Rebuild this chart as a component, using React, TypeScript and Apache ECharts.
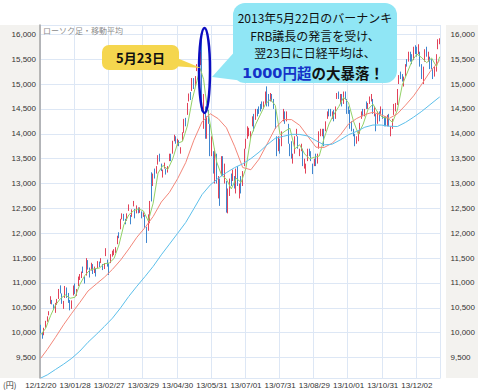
import React, { useEffect, useRef } from 'react';
import * as echarts from 'echarts';

// trading days (year/month prefix, days)
const monthDays: [string, number[]][] = [
  ['12/12', [20, 21, 25, 26, 27, 28]],
  ['13/01', [4, 7, 8, 9, 10, 11, 15, 16, 17, 18, 21, 22, 23, 24, 25, 28, 29, 30, 31]],
  ['13/02', [1, 4, 5, 6, 7, 8, 12, 13, 14, 15, 18, 19, 20, 21, 22, 25, 26, 27, 28]],
  ['13/03', [1, 4, 5, 6, 7, 8, 11, 12, 13, 14, 15, 18, 19, 21, 22, 25, 26, 27, 28, 29]],
  ['13/04', [1, 2, 3, 4, 5, 8, 9, 10, 11, 12, 15, 16, 17, 18, 19, 22, 23, 24, 25, 26, 30]],
  ['13/05', [1, 2, 7, 8, 9, 10, 13, 14, 15, 16, 17, 20, 21, 22, 23, 24, 27, 28, 29, 30, 31]],
  ['13/06', [3, 4, 5, 6, 7, 10, 11, 12, 13, 14, 17, 18, 19, 20, 21, 24, 25, 26, 27, 28]],
  ['13/07', [1, 2, 3, 4, 5, 8, 9, 10, 11, 12, 16, 17, 18, 19, 22, 23, 24, 25, 26, 29, 30, 31]],
  ['13/08', [1, 2, 5, 6, 7, 8, 9, 12, 13, 14, 15, 16, 19, 20, 21, 22, 23, 26, 27, 28, 29, 30]],
  ['13/09', [2, 3, 4, 5, 6, 9, 10, 11, 12, 13, 17, 18, 19, 20, 24, 25, 26, 27, 30]],
  ['13/10', [1, 2, 3, 4, 7, 8, 9, 10, 11, 15, 16, 17, 18, 21, 22, 23, 24, 25, 28, 29, 30, 31]],
  ['13/11', [1, 5, 6, 7, 8, 11, 12, 13, 14, 15, 18, 19, 20, 21, 22, 25, 26, 27, 28, 29]],
  ['13/12', [2, 3, 4, 5, 6, 9, 10, 11, 12, 13, 16, 17, 18, 19, 20]],
];
const dates: string[] = [];
monthDays.forEach(([ym, days]) => days.forEach((d) => dates.push(`${ym}/${d < 10 ? '0' + d : d}`)));

// [open, close, low, high]
const ohlc: number[][] = [
  // 2012/12
  [10130, 10040, 9990, 10160], [9970, 9940, 9880, 10010], [9990, 10080, 9950, 10100], [10110, 10230, 10100, 10240], [10250, 10322, 10220, 10330], [10380, 10395, 10350, 10433],
  // 2013/01
  [10604, 10688, 10580, 10734], [10640, 10599, 10570, 10660], [10540, 10508, 10467, 10570], [10455, 10578, 10400, 10600], [10580, 10652, 10560, 10680], [10700, 10801, 10680, 10880],
  [10910, 10879, 10790, 10952], [10780, 10600, 10580, 10790], [10540, 10609, 10480, 10640], [10720, 10913, 10700, 10940], [10880, 10747, 10700, 10910], [10720, 10709, 10600, 10800],
  [10640, 10487, 10450, 10660], [10500, 10620, 10480, 10650], [10760, 10926, 10750, 10950], [10960, 10824, 10780, 10990], [10800, 10866, 10740, 10880], [10950, 11113, 10940, 11130], [11090, 11138, 11060, 11180],
  // 2013/02
  [11140, 11191, 11100, 11230], [11300, 11260, 11200, 11330], [11120, 11046, 10990, 11130], [11180, 11463, 11150, 11500], [11420, 11357, 11270, 11460], [11280, 11153, 11110, 11310],
  [11280, 11369, 11250, 11407], [11360, 11251, 11180, 11380], [11280, 11307, 11200, 11330], [11260, 11173, 11130, 11290], [11320, 11408, 11300, 11440], [11400, 11372, 11320, 11430],
  [11420, 11468, 11400, 11500], [11360, 11309, 11260, 11380], [11310, 11385, 11280, 11400], [11550, 11662, 11540, 11700], [11450, 11398, 11330, 11470], [11370, 11253, 11160, 11400], [11420, 11559, 11400, 11580],
  // 2013/03
  [11580, 11606, 11530, 11650], [11600, 11652, 11560, 11680], [11650, 11683, 11600, 11720], [11800, 11932, 11780, 11950], [11990, 11968, 11900, 12020], [12100, 12283, 12080, 12290],
  [12330, 12349, 12280, 12400], [12360, 12314, 12250, 12390], [12260, 12239, 12180, 12290], [12280, 12381, 12250, 12400], [12500, 12560, 12450, 12580], [12300, 12220, 12180, 12370],
  [12350, 12468, 12330, 12480], [12560, 12635, 12540, 12650], [12480, 12338, 12300, 12490], [12420, 12546, 12400, 12560], [12480, 12471, 12400, 12520], [12440, 12493, 12410, 12520],
  [12420, 12336, 12300, 12440], [12370, 12397, 12330, 12420],
  // 2013/04
  [12350, 12135, 12110, 12370], [12100, 12003, 11805, 12130], [12100, 12362, 12050, 12380], [12300, 12634, 12200, 12650], [12900, 12833, 12640, 13225], [12980, 13192, 12950, 13200],
  [13270, 13193, 13100, 13300], [13280, 13288, 13200, 13350], [13400, 13549, 13380, 13570], [13520, 13485, 13440, 13600], [13380, 13275, 13250, 13400], [13150, 13221, 13120, 13280],
  [13320, 13382, 13300, 13420], [13280, 13220, 13180, 13300], [13240, 13316, 13220, 13350], [13480, 13568, 13450, 13600], [13560, 13529, 13450, 13600], [13620, 13843, 13600, 13860],
  [13870, 13926, 13850, 13980], [13900, 13884, 13800, 13950], [13800, 13860, 13760, 13900],
  // 2013/05
  [13850, 13799, 13750, 13870], [13680, 13694, 13600, 13730], [13900, 13999, 13860, 14030], [14050, 14285, 14020, 14300], [14300, 14191, 14150, 14320], [14400, 14607, 14380, 14620],
  [14720, 14782, 14650, 14810], [14800, 14758, 14680, 14840], [14880, 15096, 14860, 15120], [15100, 15037, 14900, 15120], [15020, 15138, 14950, 15160], [15300, 15360, 15260, 15400],
  [15350, 15381, 15250, 15420], [15400, 15627, 15380, 15650], [15700, 14483, 14450, 15942], [14400, 14612, 14100, 14800], [14500, 13981, 13900, 14550], [14020, 14311, 13900, 14350],
  [14450, 14326, 14200, 14480], [14150, 13589, 13550, 14200], [13700, 13774, 13550, 13950],
  // 2013/06
  [13600, 13261, 13200, 13650], [13100, 13534, 13000, 13700], [13550, 13014, 13000, 13600], [12800, 12904, 12700, 13150], [12900, 12877, 12550, 13100], [13200, 13514, 13150, 13550],
  [13500, 13317, 13150, 13550], [13150, 13289, 13000, 13400], [13000, 12445, 12415, 13050], [12450, 12686, 12400, 12900], [12800, 13033, 12750, 13100], [13150, 13008, 12950, 13200],
  [13100, 13245, 13050, 13280], [13050, 13015, 12900, 13150], [12850, 13230, 12800, 13300], [13300, 13062, 12950, 13350], [12850, 12969, 12700, 13000], [13000, 12834, 12800, 13150],
  [13050, 13213, 12950, 13250], [13400, 13677, 13350, 13700],
  // 2013/07
  [13750, 13852, 13700, 13900], [13950, 14099, 13900, 14150], [14050, 14055, 13950, 14120], [13950, 14018, 13900, 14050], [14200, 14309, 14150, 14350], [14350, 14109, 14050, 14400],
  [14300, 14472, 14280, 14500], [14450, 14416, 14350, 14500], [14500, 14472, 14400, 14550], [14550, 14506, 14450, 14600], [14600, 14599, 14500, 14650], [14550, 14615, 14500, 14650],
  [14650, 14808, 14600, 14850], [14850, 14589, 14550, 14953], [14750, 14658, 14550, 14800], [14700, 14778, 14650, 14820], [14750, 14731, 14650, 14800], [14650, 14562, 14500, 14700],
  [14450, 14129, 14100, 14500], [13900, 13661, 13550, 13950], [13700, 13869, 13650, 13950], [13850, 13668, 13600, 13900],
  // 2013/08
  [13800, 14005, 13750, 14050], [14300, 14466, 14250, 14500], [14400, 14258, 14200, 14450], [14300, 14401, 14250, 14450], [14150, 13824, 13800, 14200], [13750, 13605, 13550, 13800],
  [13750, 13615, 13500, 13850], [13500, 13519, 13400, 13600], [13650, 13925, 13600, 13950], [14000, 14050, 13950, 14100], [13900, 13752, 13700, 13950], [13600, 13650, 13550, 13700],
  [13750, 13758, 13650, 13800], [13650, 13397, 13350, 13700], [13350, 13424, 13300, 13500], [13250, 13366, 13200, 13400], [13500, 13660, 13450, 13700], [13650, 13636, 13550, 13700],
  [13600, 13542, 13450, 13650], [13350, 13338, 13190, 13400], [13400, 13459, 13350, 13500], [13550, 13389, 13350, 13600],
  // 2013/09
  [13450, 13572, 13400, 13600], [13700, 14001, 13700, 14050], [14000, 14053, 13950, 14100], [14000, 14065, 13950, 14100], [14050, 13860, 13750, 14100], [14100, 14205, 14050, 14250],
  [14350, 14423, 14300, 14450], [14450, 14425, 14350, 14500], [14450, 14387, 14350, 14500], [14350, 14404, 14300, 14450], [14450, 14311, 14250, 14480], [14350, 14505, 14300, 14550],
  [14750, 14766, 14700, 14820], [14800, 14742, 14700, 14850], [14700, 14732, 14600, 14800], [14750, 14620, 14550, 14800], [14650, 14799, 14600, 14850], [14800, 14760, 14700, 14850],
  [14650, 14455, 14400, 14700],
  // 2013/10
  [14500, 14484, 14400, 14550], [14450, 14170, 14100, 14480], [14200, 14157, 14050, 14250], [14050, 14024, 13950, 14100], [13950, 13853, 13750, 14000], [13850, 13894, 13800, 13950],
  [13900, 14037, 13850, 14050], [14050, 14194, 14000, 14220], [14350, 14404, 14300, 14450], [14450, 14441, 14350, 14500], [14400, 14467, 14350, 14500], [14600, 14586, 14500, 14650],
  [14550, 14561, 14500, 14620], [14650, 14693, 14600, 14750], [14700, 14713, 14650, 14800], [14650, 14426, 14400, 14700], [14400, 14486, 14350, 14550], [14350, 14088, 14050, 14400],
  [14250, 14396, 14200, 14450], [14400, 14325, 14250, 14450], [14450, 14502, 14400, 14550], [14450, 14327, 14300, 14500],
  // 2013/11
  [14300, 14201, 14150, 14350], [14300, 14225, 14150, 14350], [14200, 14337, 14150, 14380], [14350, 14229, 14150, 14400], [14050, 14086, 13950, 14150], [14150, 14269, 14100, 14300],
  [14400, 14588, 14380, 14600], [14500, 14567, 14450, 14620], [14600, 14876, 14580, 14900], [15050, 15165, 15000, 15180], [15200, 15164, 15100, 15250], [15150, 15126, 15050, 15200],
  [15050, 15076, 14950, 15150], [15200, 15365, 15150, 15400], [15450, 15381, 15350, 15500], [15500, 15619, 15450, 15650], [15600, 15515, 15450, 15650], [15550, 15449, 15400, 15600],
  [15500, 15727, 15480, 15750], [15750, 15661, 15600, 15780],
  // 2013/12
  [15700, 15655, 15550, 15750], [15650, 15749, 15600, 15800], [15600, 15407, 15350, 15650], [15350, 15177, 15100, 15400], [15050, 15299, 15000, 15350], [15500, 15650, 15450, 15700],
  [15700, 15610, 15550, 15750], [15500, 15611, 15450, 15650], [15500, 15341, 15300, 15550], [15450, 15403, 15300, 15500], [15250, 15152, 15100, 15300], [15200, 15278, 15150, 15350],
  [15300, 15586, 15250, 15600], [15750, 15859, 15700, 15900], [15850, 15870, 15800, 15920],
];

// moving averages read at [day index, value]
const ma5: number[][] = [
  [0, 9960], [3, 10090], [6, 10343], [9, 10554], [12, 10684], [15, 10760], [18, 10693], [21, 10713], [24, 10973], [27, 11150],
  [30, 11256], [33, 11287], [36, 11302], [39, 11388], [42, 11401], [45, 11494], [48, 11768], [51, 12169], [54, 12369], [57, 12453],
  [60, 12492], [63, 12449], [66, 12247], [69, 12605], [72, 13211], [75, 13364], [78, 13283], [81, 13495], [84, 13808], [87, 13847],
  [90, 14155], [93, 14687], [96, 15078], [97, 15202], [98, 15309], [99, 15198], [100, 15093], [101, 14817], [102, 14603], [105, 13996],
  [108, 13434], [111, 13169], [114, 13088], [117, 12892], [120, 13106], [123, 13022], [126, 13309], [129, 13940], [132, 14193], [135, 14395],
  [138, 14600], [141, 14690], [144, 14572], [147, 13978], [150, 14053], [153, 14111], [156, 13698], [159, 13779], [162, 13596], [165, 13497],
  [168, 13527], [171, 13552], [174, 13910], [177, 14196], [180, 14390], [183, 14546], [186, 14732], [189, 14624], [192, 14258], [195, 13993],
  [198, 14194], [201, 14492], [204, 14596], [207, 14422], [210, 14328], [213, 14318], [216, 14229], [219, 14477], [222, 14980], [225, 15222],
  [228, 15466], [231, 15601], [234, 15530], [237, 15429], [240, 15523], [243, 15352], [245, 15549],
];
const ma25: number[][] = [
  [0, 9489], [4, 9665], [9, 9907], [14, 10161], [19, 10391], [24, 10610], [29, 10839], [34, 10978], [39, 11114], [44, 11274],
  [49, 11460], [54, 11682], [59, 11920], [64, 12115], [69, 12337], [74, 12628], [79, 12822], [84, 13096], [89, 13421], [94, 13871],
  [99, 14239], [104, 14404], [109, 14302], [114, 14121], [119, 13749], [124, 13322], [129, 13277], [134, 13489], [139, 13796], [144, 14111],
  [149, 14285], [154, 14285], [159, 14170], [164, 13949], [169, 13730], [174, 13725], [179, 13810], [184, 13977], [189, 14197], [194, 14307],
  [199, 14387], [204, 14432], [209, 14382], [214, 14310], [219, 14401], [224, 14575], [229, 14763], [234, 14998], [239, 15245], [244, 15441],
  [245, 15472],
];
const ma75: number[][] = [
  [0, 9090], [4, 9153], [9, 9261], [14, 9368], [19, 9486], [24, 9631], [29, 9809], [34, 9963], [39, 10125], [44, 10293],
  [49, 10501], [54, 10729], [59, 10935], [64, 11130], [69, 11334], [74, 11566], [79, 11781], [84, 11998], [89, 12217], [94, 12494],
  [99, 12776], [104, 12969], [109, 13106], [114, 13219], [119, 13319], [124, 13396], [129, 13501], [134, 13629], [139, 13779], [144, 13910],
  [149, 13949], [154, 13989], [159, 13987], [164, 13955], [169, 13863], [174, 13777], [179, 13791], [184, 13878], [189, 13981], [194, 14049],
  [199, 14132], [204, 14176], [209, 14176], [214, 14152], [219, 14146], [224, 14229], [229, 14335], [234, 14452], [239, 14584], [244, 14716],
  [245, 14740],
];

const Y_MIN = 9090;
const Y_MAX = 16187;

const fmt = (v: number) => String(Math.round(v)).replace(/\B(?=(\d{3})+(?!\d))/g, ',');
const LATIN = 'Liberation Sans, Arial, sans-serif';
const JP = '"Noto Sans CJK JP", sans-serif';

export default function App() {
  const ref = useRef<HTMLDivElement>(null);
  useEffect(() => {
    if (!ref.current) return;
    const chart = echarts.init(ref.current, undefined, { renderer: 'svg' });
    const axisLabelBase = {
      color: '#333',
      fontSize: 8,
      fontFamily: LATIN,
      showMinLabel: false,
      showMaxLabel: false,
      formatter: (v: number) => fmt(v),
    };
    chart.setOption({
      animation: false,
      backgroundColor: '#ffffff',
      grid: { left: 40, right: 32, top: 25, bottom: 14 },
      xAxis: {
        type: 'category',
        data: dates,
        boundaryGap: true,
        axisLine: { show: false },
        axisTick: { show: false },
        axisLabel: { interval: 20, color: '#333', fontSize: 8, fontFamily: LATIN, margin: 3 },
        splitLine: { show: true, interval: 20, lineStyle: { color: '#dde7f5', width: 1 } },
      },
      yAxis: [
        {
          type: 'value',
          min: Y_MIN,
          max: Y_MAX,
          splitNumber: 14,
          position: 'left',
          axisLine: { show: true, lineStyle: { color: '#a3a3a3', width: 1.5 } },
          axisTick: { show: false },
          axisLabel: { ...axisLabelBase, margin: 4 },
          splitLine: { show: true, lineStyle: { color: '#dde7f5', width: 1 } },
        },
        {
          type: 'value',
          min: Y_MIN,
          max: Y_MAX,
          splitNumber: 14,
          position: 'right',
          axisLine: { show: false },
          axisTick: { show: false },
          axisLabel: { ...axisLabelBase, margin: 10 },
          splitLine: { show: false },
        },
      ],
      series: [
        {
          type: 'candlestick',
          data: ohlc,
          barWidth: 1.2,
          itemStyle: {
            color: '#e2435a',
            color0: '#3f86cf',
            borderColor: '#e2435a',
            borderColor0: '#3f86cf',
            borderWidth: 1,
          },
        },
        { type: 'line', data: ma5, showSymbol: false, lineStyle: { color: '#93d267', width: 1 }, z: 3 },
        { type: 'line', data: ma25, showSymbol: false, lineStyle: { color: '#f3877a', width: 1 }, z: 3 },
        { type: 'line', data: ma75, showSymbol: false, lineStyle: { color: '#5cbfea', width: 1 }, z: 3 },
      ],
      graphic: [
        { type: 'rect', z: -10, silent: true, shape: { x: 0, y: 25, width: 40, height: 353 }, style: { fill: '#f3f2ef' } },
        { type: 'rect', z: -10, silent: true, shape: { x: 446, y: 25, width: 32, height: 353 }, style: { fill: '#f3f2ef' } },
        {
          type: 'text', z: 5, x: 43, y: 26,
          style: { text: 'ローソク足・移動平均', fill: '#8c8c8c', fontSize: 8, fontFamily: JP },
        },
        {
          type: 'text', z: 5, x: 3, y: 380,
          style: { text: '(円)', fill: '#333', fontSize: 8, fontFamily: JP },
        },
        {
          type: 'ellipse', z: 50,
          shape: { cx: 204.5, cy: 70.5, rx: 5.5, ry: 42.5 },
          style: { fill: 'none', stroke: '#0c0cc0', lineWidth: 2.5 },
        },
        // yellow callout
        { type: 'polygon', z: 60, shape: { points: [[172, 56], [201, 68], [172, 66]] }, style: { fill: '#f5d64e' } },
        { type: 'rect', z: 61, shape: { x: 102, y: 45, width: 77, height: 25, r: 7 }, style: { fill: '#f5d64e' } },
        {
          type: 'text', z: 62, x: 140.5, y: 57.5,
          style: { text: '5月23日', fill: '#111', fontSize: 13, fontWeight: 'bold', fontFamily: JP, align: 'center', verticalAlign: 'middle' },
        },
        // cyan callout
        { type: 'polygon', z: 60, shape: { points: [[238, 48], [212, 77], [252, 82]] }, style: { fill: '#90e6f5' } },
        { type: 'rect', z: 61, shape: { x: 233, y: 3, width: 164, height: 80, r: 12 }, style: { fill: '#90e6f5' } },
        {
          type: 'text', z: 62, x: 315, y: 17.5,
          style: { text: '2013年5月22日のバーナンキ', fill: '#111', fontSize: 12, fontFamily: JP, align: 'center', verticalAlign: 'middle' },
        },
        {
          type: 'text', z: 62, x: 315, y: 35,
          style: { text: 'FRB議長の発言を受け、', fill: '#111', fontSize: 12, fontFamily: JP, align: 'center', verticalAlign: 'middle' },
        },
        {
          type: 'text', z: 62, x: 315, y: 52.5,
          style: { text: '翌23日に日経平均は、', fill: '#111', fontSize: 12, fontFamily: JP, align: 'center', verticalAlign: 'middle' },
        },
        {
          type: 'text', z: 62, x: 313, y: 72.5,
          style: {
            text: '{n|1000}{b|円超}{k|の大暴落！}',
            align: 'center',
            verticalAlign: 'middle',
            rich: {
              n: { fill: '#1432c8', fontSize: 14.5, fontWeight: 'bold', fontFamily: 'DejaVu Sans, sans-serif' },
              b: { fill: '#1432c8', fontSize: 14.5, fontWeight: 'bold', fontFamily: JP },
              k: { fill: '#111', fontSize: 14.5, fontWeight: 'bold', fontFamily: JP },
            },
          },
        },
      ],
    });
    return () => chart.dispose();
  }, []);
  return <div ref={ref} style={{ position: 'absolute', left: 0, top: 0, width: 478, height: 392 }} />;
}
